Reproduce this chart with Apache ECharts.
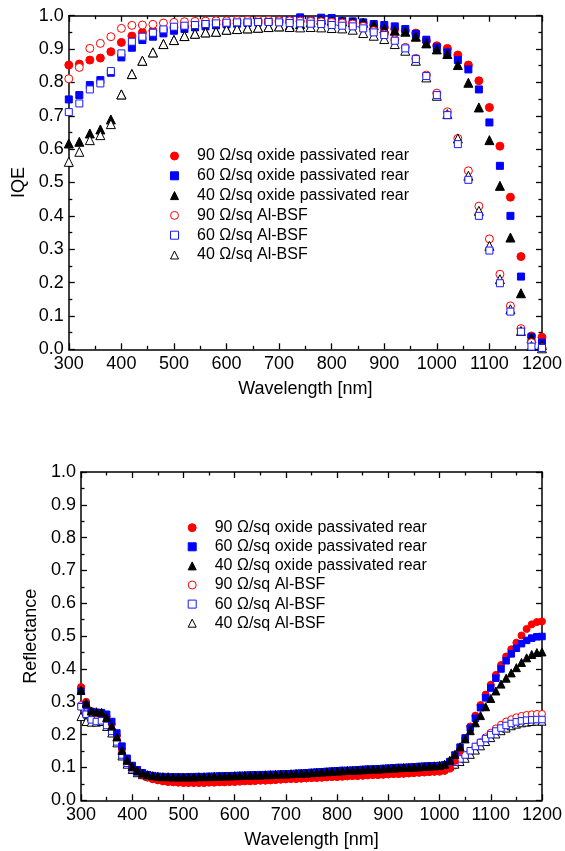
<!DOCTYPE html>
<html><head><meta charset="utf-8">
<script src="https://cdn.jsdelivr.net/npm/echarts@6/dist/echarts.min.js"></script>
<style>html,body{margin:0;padding:0;background:#fff}#c{width:565px;height:851px}</style>
</head><body><div id="c"></div>
<script>
const seriesNames = [
  '90 Ω/sq oxide passivated rear',
  '60 Ω/sq oxide passivated rear',
  '40 Ω/sq oxide passivated rear',
  '90 Ω/sq Al-BSF',
  '60 Ω/sq Al-BSF',
  '40 Ω/sq Al-BSF'
];
const xTicks = [300,400,500,600,700,800,900,1000,1100,1200];
const yTicks = [0.0,0.1,0.2,0.3,0.4,0.5,0.6,0.7,0.8,0.9,1.0];

// IQE (top)
const iqeWavelengths = [300,320,340,360,380,400,420,440,460,480,500,520,540,560,580,600,620,640,660,680,700,720,740,760,780,800,820,840,860,880,900,920,940,960,980,1000,1020,1040,1060,1080,1100,1120,1140,1160,1180,1200];
const iqe90ox = [.852,.855,.867,.873,.892,.920,.939,.950,.955,.960, .965,.968,.970,.972,.974,.976,.977,.978,.979,.980, .981,.982,.983,.983,.984,.984,.982,.980,.978,.972, .965,.960,.955,.948,.925,.910,.902,.882,.852,.805, .725,.609,.456,.278,.040,.036];
const iqe60ox = [.749,.762,.792,.807,.829,.875,.904,.927,.937,.947, .955,.960,.965,.968,.971,.974,.976,.978,.980,.982, .984,.986,.995,.985,.994,.993,.985,.983,.980,.975, .972,.968,.960,.945,.928,.905,.890,.867,.839,.779, .680,.550,.400,.218,.036,.020];
const iqe40ox = [.617,.622,.647,.659,.689,.764,.825,.865,.890,.915, .927,.939,.946,.950,.952,.958,.960,.962,.964,.966, .968,.970,.975,.980,.988,.985,.983,.980,.979,.972, .962,.955,.952,.937,.917,.899,.885,.852,.799,.725, .627,.490,.335,.168,.033,.012];
const iqe90al = [.811,.845,.902,.917,.937,.962,.971,.972,.974,.978, .980,.982,.983,.984,.985,.985,.986,.986,.986,.986, .985,.985,.984,.983,.982,.980,.978,.975,.968,.955, .945,.928,.905,.872,.822,.768,.712,.632,.535,.429, .331,.225,.130,.062,.020,.005];
const iqe60al = [.711,.737,.779,.797,.834,.887,.922,.937,.949,.959, .967,.970,.972,.975,.977,.979,.980,.980,.981,.981, .980,.978,.977,.976,.975,.972,.970,.968,.962,.950, .942,.925,.902,.870,.819,.762,.702,.615,.508,.400, .296,.198,.113,.053,.008,.004];
const iqe40al = [.562,.592,.627,.642,.675,.764,.825,.865,.890,.915, .927,.939,.946,.950,.952,.958,.960,.962,.964,.966, .968,.966,.965,.966,.965,.963,.962,.958,.948,.940, .930,.915,.895,.865,.815,.760,.705,.632,.520,.415, .310,.210,.120,.055,.010,.003];

// Reflectance (bottom)
const reflWavelengths = [300,310,320,330,340,350,360,370,380,390,400,410,420,430,440,450,460,470,480,490,500,510,520,530,540,550,560,570,580,590,600,610,620,630,640,650,660,670,680,690,700,710,720,730,740,750,760,770,780,790,800,810,820,830,840,850,860,870,880,890,900,910,920,930,940,950,960,970,980,990,1000,1010,1020,1030,1040,1050,1060,1070,1080,1090,1100,1110,1120,1130,1140,1150,1160,1170,1180,1190,1200];
const refl90ox = [.345,.300,.272,.265,.265,.255,.232,.196,.155,.120, .100,.088,.078,.070,.065,.061,.058,.056,.055,.054, .053,.053,.053,.053,.053,.054,.054,.055,.055,.056, .056,.057,.058,.058,.059,.060,.060,.061,.062,.063, .064,.065,.065,.066,.067,.068,.068,.069,.070,.071, .071,.072,.073,.074,.074,.075,.076,.077,.077,.078, .079,.080,.080,.081,.082,.083,.084,.085,.086,.087, .088,.090,.098,.120,.150,.188,.225,.258,.290,.322, .352,.382,.412,.438,.460,.480,.502,.522,.536,.543, .545];
const refl60ox = [.332,.290,.270,.268,.267,.262,.240,.205,.165,.128, .106,.093,.084,.078,.075,.073,.072,.071,.071,.071, .071,.071,.072,.072,.072,.073,.073,.074,.074,.075, .075,.076,.076,.077,.077,.078,.078,.079,.079,.080, .080,.081,.082,.083,.084,.085,.086,.087,.088,.089, .090,.091,.091,.092,.093,.094,.095,.095,.096,.097, .098,.099,.100,.100,.101,.102,.103,.104,.105,.105, .106,.108,.118,.138,.162,.190,.220,.250,.282,.312, .342,.372,.400,.425,.446,.463,.477,.487,.494,.498, .499];
const refl40ox = [.335,.296,.272,.270,.268,.252,.226,.193,.152,.122, .103,.091,.083,.078,.075,.073,.072,.072,.071,.071, .071,.071,.071,.072,.072,.072,.073,.073,.074,.074, .075,.075,.076,.076,.077,.077,.078,.078,.079,.080, .080,.081,.082,.082,.083,.084,.085,.086,.087,.088, .089,.090,.091,.091,.092,.093,.094,.095,.095,.096, .097,.098,.099,.100,.100,.101,.102,.103,.104,.105, .106,.110,.122,.140,.163,.187,.212,.236,.258,.285, .310,.333,.354,.372,.388,.404,.420,.434,.444,.450, .452];
const refl90al = [.290,.265,.250,.245,.245,.235,.215,.183,.142,.115, .097,.085,.076,.069,.064,.061,.058,.056,.055,.054, .053,.053,.053,.053,.053,.054,.054,.055,.055,.056, .056,.057,.058,.058,.059,.060,.060,.061,.062,.063, .064,.065,.065,.066,.067,.068,.068,.069,.070,.071, .071,.072,.073,.074,.074,.075,.076,.077,.077,.078, .079,.080,.080,.081,.082,.083,.084,.085,.086,.087, .087,.090,.096,.106,.118,.132,.147,.162,.177,.192, .206,.219,.230,.240,.247,.253,.257,.260,.262,.263, .263];
const refl60al = [.285,.262,.245,.240,.242,.228,.210,.178,.138,.113, .096,.086,.079,.075,.073,.071,.070,.070,.069,.069, .069,.070,.070,.070,.071,.071,.072,.072,.073,.073, .074,.074,.075,.075,.076,.076,.077,.077,.078,.078, .079,.080,.080,.081,.082,.083,.084,.085,.086,.087, .088,.089,.089,.090,.091,.092,.093,.093,.094,.095, .096,.097,.097,.098,.099,.099,.100,.100,.100,.100, .100,.103,.108,.116,.126,.138,.151,.164,.176,.188, .200,.211,.220,.228,.234,.239,.242,.244,.245,.246, .246];
const refl40al = [.255,.240,.238,.238,.240,.225,.205,.175,.135,.110, .094,.084,.078,.074,.072,.070,.069,.069,.068,.068, .068,.069,.069,.069,.070,.070,.071,.071,.072,.072, .073,.073,.074,.074,.075,.075,.076,.076,.077,.077, .078,.079,.079,.080,.081,.082,.083,.084,.085,.086, .087,.088,.088,.089,.090,.091,.092,.092,.093,.094, .095,.096,.096,.097,.097,.098,.098,.098,.098,.098, .098,.100,.104,.110,.118,.128,.140,.153,.166,.179, .191,.202,.212,.220,.227,.232,.236,.238,.240,.241, .241];

const FONT = '"Liberation Sans", Arial, sans-serif';
const AX = '#000';
const pair = (xs, ys) => xs.map((x, i) => [x, ys[i]]);

const styles = [
  {symbol: 'circle',   fill: '#ff0000', stroke: '#ff0000', size: [8, 7]},
  {symbol: 'rect',     fill: '#0000ff', stroke: '#0000ff', size: [7, 6.5]},
  {symbol: 'triangle', fill: '#000000', stroke: '#000000', size: [9, 8]},
  {symbol: 'circle',   fill: '#ffffff', stroke: '#ff0000', size: [8, 7]},
  {symbol: 'rect',     fill: '#ffffff', stroke: '#1a1aff', size: [7, 6.5]},
  {symbol: 'triangle', fill: '#ffffff', stroke: '#000000', size: [9, 8]}
];

function mkSeries(idx, grid, data) {
  const s = styles[idx];
  return {
    type: 'scatter', name: seriesNames[idx],
    xAxisIndex: grid * 2, yAxisIndex: grid * 2,
    symbol: s.symbol, symbolSize: s.size[grid],
    itemStyle: {color: s.fill, borderColor: s.stroke, borderWidth: 1, opacity: 1},
    emphasis: {disabled: true},
    clip: false,
    data: data
  };
}

function axes(grid, yName) {
  const lineStyle = {color: AX, width: 1.5};
  const tickStyle = {color: AX, width: 1.3};
  const xBase = {
    gridIndex: grid, type: 'value', min: xTicks[0], max: xTicks[xTicks.length - 1], interval: 100,
    axisLine: {show: true, onZero: false, lineStyle},
    axisTick: {show: true, inside: true, length: 6, lineStyle: tickStyle},
    minorTick: {show: true, splitNumber: 2, length: 3.5, lineStyle: tickStyle},
    splitLine: {show: false}
  };
  const yBase = {
    gridIndex: grid, type: 'value', min: yTicks[0], max: yTicks[yTicks.length - 1], interval: 0.1,
    axisLine: {show: true, onZero: false, lineStyle},
    axisTick: {show: true, inside: true, length: 6, lineStyle: tickStyle},
    minorTick: {show: true, splitNumber: 2, length: 3.5, lineStyle: tickStyle},
    splitLine: {show: false}
  };
  return {
    x: [
      Object.assign({}, xBase, {
        position: 'bottom',
        axisLabel: {show: true, fontSize: 18, color: '#000', fontFamily: FONT, margin: 6,
          formatter: v => String(v)},
        name: 'Wavelength [nm]', nameLocation: 'middle', nameGap: 31,
        nameTextStyle: {fontSize: 18, color: '#000', fontFamily: FONT}
      }),
      Object.assign({}, xBase, {position: 'top', axisLabel: {show: false}})
    ],
    y: [
      Object.assign({}, yBase, {
        position: 'left',
        axisLabel: {show: true, fontSize: 18, color: '#000', fontFamily: FONT, margin: 5,
          formatter: v => v.toFixed(1)},
        name: yName, nameLocation: 'middle', nameGap: 39,
        nameTextStyle: {fontSize: 18, color: '#000', fontFamily: FONT}
      }),
      Object.assign({}, yBase, {position: 'right', axisLabel: {show: false}})
    ]
  };
}

const a0 = axes(0, 'IQE');
const a1 = axes(1, 'Reflectance');

const legendCommon = {
  orient: 'vertical', padding: 0, itemWidth: 8, itemHeight: 8,
  textStyle: {fontSize: 16, lineHeight: 16, color: '#000', fontFamily: FONT, padding: [0, 0, 0, 13.5]},
  itemStyle: {borderWidth: 1},
  selectedMode: false,
  data: seriesNames
};

const chart = echarts.init(document.getElementById('c'), null, {renderer: 'canvas'});
chart.setOption({
  animation: false,
  backgroundColor: '#fff',
  grid: [
    {left: 68.8, top: 15.7, width: 475.2, height: 333.6},
    {left: 81, top: 472, width: 464, height: 328.3}
  ],
  xAxis: [...a0.x, ...a1.x],
  yAxis: [...a0.y, ...a1.y],
  legend: [
    Object.assign({}, legendCommon, {left: 170, top: 148, itemGap: 3.8}),
    Object.assign({}, legendCommon, {left: 187.7, top: 519.7, itemGap: 3.1})
  ],
  series: [
    mkSeries(0, 0, pair(iqeWavelengths, iqe90ox)),
    mkSeries(1, 0, pair(iqeWavelengths, iqe60ox)),
    mkSeries(2, 0, pair(iqeWavelengths, iqe40ox)),
    mkSeries(3, 0, pair(iqeWavelengths, iqe90al)),
    mkSeries(5, 0, pair(iqeWavelengths, iqe40al)),
    mkSeries(4, 0, pair(iqeWavelengths, iqe60al)),
    mkSeries(3, 1, pair(reflWavelengths, refl90al)),
    mkSeries(5, 1, pair(reflWavelengths, refl40al)),
    mkSeries(4, 1, pair(reflWavelengths, refl60al)),
    mkSeries(0, 1, pair(reflWavelengths, refl90ox)),
    mkSeries(1, 1, pair(reflWavelengths, refl60ox)),
    mkSeries(2, 1, pair(reflWavelengths, refl40ox))
  ]
});
</script>
</body></html>
